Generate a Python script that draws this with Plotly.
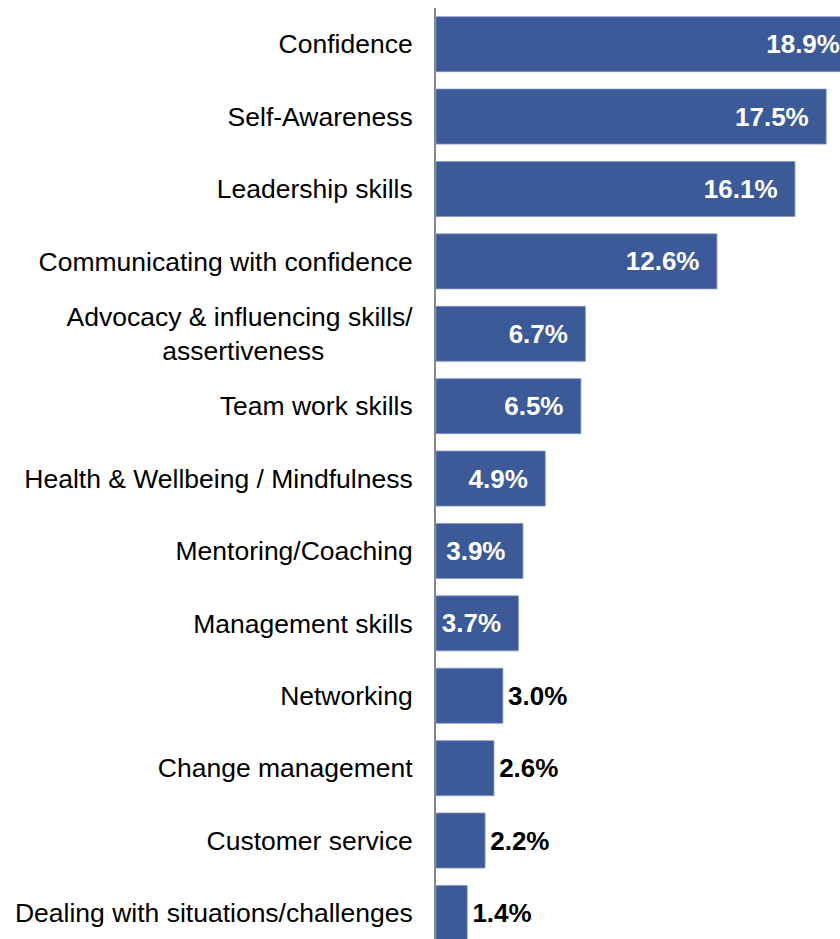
import plotly.graph_objects as go

# Skills reported as developed, share of responses (%)
categories = [
    "Confidence",
    "Self-Awareness",
    "Leadership skills",
    "Communicating with confidence",
    "Advocacy & influencing skills/<br>assertiveness" + "\u00a0" * 12,
    "Team work skills",
    "Health & Wellbeing / Mindfulness",
    "Mentoring/Coaching",
    "Management skills",
    "Networking",
    "Change management",
    "Customer service",
    "Dealing with situations/challenges",
]
values = [18.9, 17.5, 16.1, 12.6, 6.7, 6.5, 4.9, 3.9, 3.7, 3.0, 2.6, 2.2, 1.4]

# Larger bars carry their label inside (white); short bars carry it outside (black)
positions = ["inside" if v >= 3.5 else "outside" for v in values]
templates = [
    "%{x:.1f}%\u00a0\u00a0" if p == "inside" else "\u200a%{x:.1f}%"
    for p in positions
]

BAR = "#3D5A98"
FONT = "Liberation Sans, Arial, sans-serif"

fig = go.Figure(
    go.Bar(
        x=values,
        y=categories,
        orientation="h",
        marker=dict(color=BAR, line=dict(color="#8596c4", width=0.8)),
        texttemplate=templates,
        textposition=positions,
        insidetextanchor="end",
        insidetextfont=dict(family=FONT, size=26, color="white", weight="bold"),
        outsidetextfont=dict(family=FONT, size=26, color="black", weight="bold"),
        textangle=0,
        cliponaxis=True,
        hoverinfo="skip",
    )
)

fig.update_layout(
    width=840,
    height=939,
    margin=dict(l=436, r=0, t=8, b=0),
    paper_bgcolor="white",
    plot_bgcolor="white",
    bargap=0.24,
    showlegend=False,
    font=dict(family=FONT, size=26, color="black"),
    uniformtext=dict(mode=False),
)

fig.update_xaxes(
    range=[0, 18.12],
    showgrid=False,
    zeroline=False,
    showticklabels=False,
    showline=False,
)

fig.update_yaxes(
    range=[12.36, -0.5],
    showgrid=False,
    zeroline=False,
    showline=True,
    linecolor="#888888",
    linewidth=2,
    ticks="",
    ticklabelstandoff=16,
    tickfont=dict(family=FONT, size=26.5, color="black"),
)

fig.write_html("out.html")
